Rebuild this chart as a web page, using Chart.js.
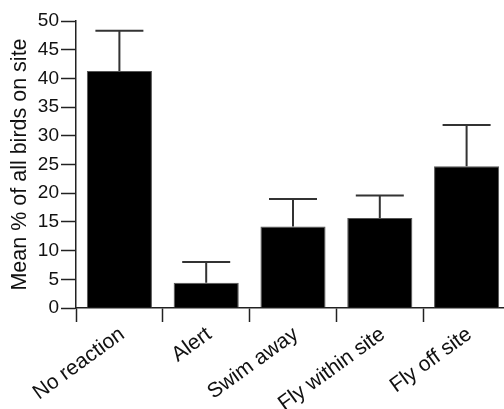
<!DOCTYPE html>
<html>
<head>
<meta charset="utf-8">
<script src="https://cdn.jsdelivr.net/npm/chart.js@4"></script>
<style>
    html, body { margin: 0; padding: 0; background: #fff; overflow: hidden; }
</style>
</head>
<body>
<canvas id="canvas" width="520" height="409"></canvas>
<script>
    const reactions = ['No reaction', 'Alert', 'Swim away', 'Fly within site', 'Fly off site'];
    const meanPercent = [41.3, 4.4, 14.2, 15.7, 24.7];
    const errorUpper = [7.0, 3.6, 4.8, 3.9, 7.2];
    const yTicks = [0, 5, 10, 15, 20, 25, 30, 35, 40, 45, 50];

    const axisColor = '#222';
    const fontFamily = '"Liberation Sans", Arial, sans-serif';

    // upper error bar (line + cap) on top of each bar
    const errorBars = {
        id: 'errorBars',
        afterDatasetsDraw(chart) {
            const ctx = chart.ctx;
            const yScale = chart.scales.y;
            const meta = chart.getDatasetMeta(0);
            ctx.save();
            ctx.strokeStyle = '#333';
            ctx.lineWidth = 2;
            meta.data.forEach((bar, i) => {
                const top = yScale.getPixelForValue(meanPercent[i] + errorUpper[i]);
                const base = yScale.getPixelForValue(meanPercent[i]);
                const half = 24;
                ctx.beginPath();
                ctx.moveTo(bar.x, base);
                ctx.lineTo(bar.x, top);
                ctx.moveTo(bar.x - half, top);
                ctx.lineTo(bar.x + half, top);
                ctx.stroke();
            });
            ctx.restore();
        }
    };

    const ctx = document.getElementById('canvas').getContext('2d');
    window.myBar = new Chart(ctx, {
        type: 'bar',
        data: {
            labels: reactions,
            datasets: [{
                label: 'Mean %',
                data: meanPercent,
                backgroundColor: '#000',
                borderColor: '#555',
                borderWidth: 1,
                barPercentage: 0.75,
                categoryPercentage: 1
            }]
        },
        options: {
            responsive: false,
            animation: false,
            layout: {
                padding: { left: 0, top: 21, right: 10, bottom: 0 }
            },
            plugins: {
                legend: { display: false },
                tooltip: { enabled: false }
            },
            scales: {
                x: {
                    afterFit: (scale) => { scale.height = 101; },
                    grid: {
                        display: true,
                        offset: true,
                        drawOnChartArea: false,
                        drawTicks: true,
                        tickLength: 14,
                        tickWidth: 1.5,
                        tickColor: axisColor
                    },
                    border: { color: axisColor, width: 1.5 },
                    ticks: {
                        minRotation: 36,
                        maxRotation: 36,
                        padding: 0,
                        labelOffset: 3,
                        color: '#111',
                        font: { family: fontFamily, size: 21 }
                    }
                },
                y: {
                    min: 0,
                    max: 50,
                    afterFit: (scale) => { scale.width = 76; },
                    afterBuildTicks: (scale) => {
                        scale.ticks = yTicks.map((v) => ({ value: v }));
                    },
                    grid: {
                        display: true,
                        drawOnChartArea: false,
                        drawTicks: true,
                        tickLength: 15,
                        tickWidth: 1.5,
                        tickColor: axisColor
                    },
                    border: { color: axisColor, width: 1.5 },
                    ticks: {
                        padding: 2,
                        color: '#111',
                        font: { family: fontFamily, size: 19 }
                    },
                    title: {
                        display: true,
                        text: 'Mean % of all birds on site',
                        color: '#111',
                        padding: { top: 7, bottom: 0 },
                        font: { family: fontFamily, size: 21.5 }
                    }
                }
            }
        },
        plugins: [errorBars]
    });
</script>
</body>
</html>
